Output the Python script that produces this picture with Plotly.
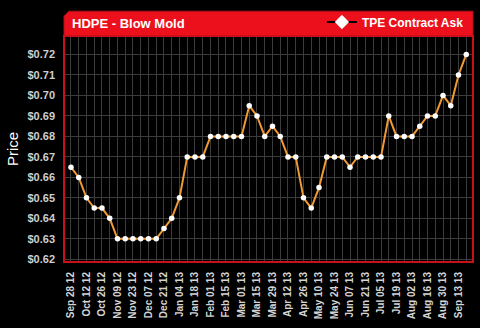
import plotly.graph_objects as go

tick_labels = ["Sep 28 12", "Oct 12 12", "Oct 26 12", "Nov 09 12", "Nov 23 12", "Dec 07 12",
               "Dec 21 12", "Jan 04 13", "Jan 18 13", "Feb 01 13", "Feb 15 13", "Mar 01 13",
               "Mar 15 13", "Mar 29 13", "Apr 12 13", "Apr 26 13", "May 10 13", "May 24 13",
               "Jun 07 13", "Jun 21 13", "Jul 05 13", "Jul 19 13", "Aug 02 13", "Aug 16 13",
               "Aug 30 13", "Sep 13 13"]

prices = [0.665, 0.66, 0.65, 0.645, 0.645, 0.64, 0.63, 0.63, 0.63, 0.63, 0.63, 0.63,
          0.635, 0.64, 0.65, 0.67, 0.67, 0.67, 0.68, 0.68, 0.68, 0.68, 0.68, 0.695,
          0.69, 0.68, 0.685, 0.68, 0.67, 0.67, 0.65, 0.645, 0.655, 0.67, 0.67, 0.67,
          0.665, 0.67, 0.67, 0.67, 0.67, 0.69, 0.68, 0.68, 0.68, 0.685, 0.69, 0.69,
          0.70, 0.695, 0.71, 0.72]

y_ticks = [0.62, 0.63, 0.64, 0.65, 0.66, 0.67, 0.68, 0.69, 0.70, 0.71, 0.72]

weeks = list(range(len(prices)))
tickvals = weeks
ticktext = [tick_labels[i // 2] if i % 2 == 0 and i // 2 < len(tick_labels) else "" for i in weeks]

FONT = "Liberation Sans, Arial, sans-serif"

fig = go.Figure()
fig.add_trace(go.Scatter(
    x=weeks, y=prices, mode="lines+markers",
    line=dict(color="#f09a35", width=2),
    marker=dict(color="white", size=5.5, symbol="circle"),
    showlegend=False,
))
# legend proxy
fig.add_trace(go.Scatter(
    x=[None], y=[None], mode="lines+markers", name="TPE Contract Ask",
    line=dict(color="black", width=2),
    marker=dict(color="white", size=11, symbol="diamond"),
))

fig.update_layout(
    width=480, height=328,
    margin=dict(l=64, r=7, t=34, b=66),
    paper_bgcolor="black", plot_bgcolor="black",
    font=dict(family=FONT, color="#d0d0d0"),
    xaxis=dict(
        range=[-0.9, len(prices) - 1 + 0.87],
        tickvals=tickvals, ticktext=ticktext, tickangle=-90,
        tickfont=dict(size=10, family="Liberation Sans, Arial", color="#d4d4d4", weight="bold"),
        showgrid=True, gridcolor="#3c3c3c", gridwidth=1,
        zeroline=False, showline=False, ticks="", ticklabelstandoff=7,
    ),
    yaxis=dict(
        range=[0.6187, 0.729],
        tickvals=y_ticks, ticktext=["$%.2f" % v for v in y_ticks],
        tickfont=dict(size=11, family="Liberation Sans, Arial", color="#cfcfcf", weight="bold"),
        showgrid=True, gridcolor="#3c3c3c", gridwidth=1,
        zeroline=False, showline=False, ticks="", ticklabelstandoff=8,
    ),
    legend=dict(
        x=0.99, xanchor="right", y=1.062, yanchor="middle",
        bgcolor="rgba(0,0,0,0)", orientation="h",
        font=dict(size=12, color="white", family="Liberation Sans, Arial", weight="bold"),
        itemwidth=30,
    ),
)

hdr_h = 25 / 228
cut_x = 5 / 409
cut_y = 5 / 228
fig.add_shape(
    type="path", xref="paper", yref="paper",
    path=f"M 0,1 L 0,{1 + hdr_h - cut_y} L {cut_x},{1 + hdr_h} L 1,{1 + hdr_h} L 1,1 Z",
    fillcolor="#ec0f1c", line=dict(color="#b0101a", width=1), layer="above",
)
fig.add_shape(
    type="rect", xref="paper", yref="paper", x0=0, y0=0, x1=1, y1=1,
    line=dict(color="#c8101a", width=2), layer="above",
)
fig.add_annotation(
    text="<b>HDPE - Blow Mold</b>", xref="paper", yref="paper",
    x=6 / 409, y=1 + 13 / 228, xanchor="left", yanchor="middle",
    showarrow=False, font=dict(size=13, color="white", family=FONT),
)
fig.add_annotation(
    text="Price", xref="paper", yref="paper", textangle=-90,
    x=-52 / 409, y=0.5, xanchor="center", yanchor="middle",
    showarrow=False, font=dict(size=15, color="white", family=FONT),
)

fig.write_html("out.html")
